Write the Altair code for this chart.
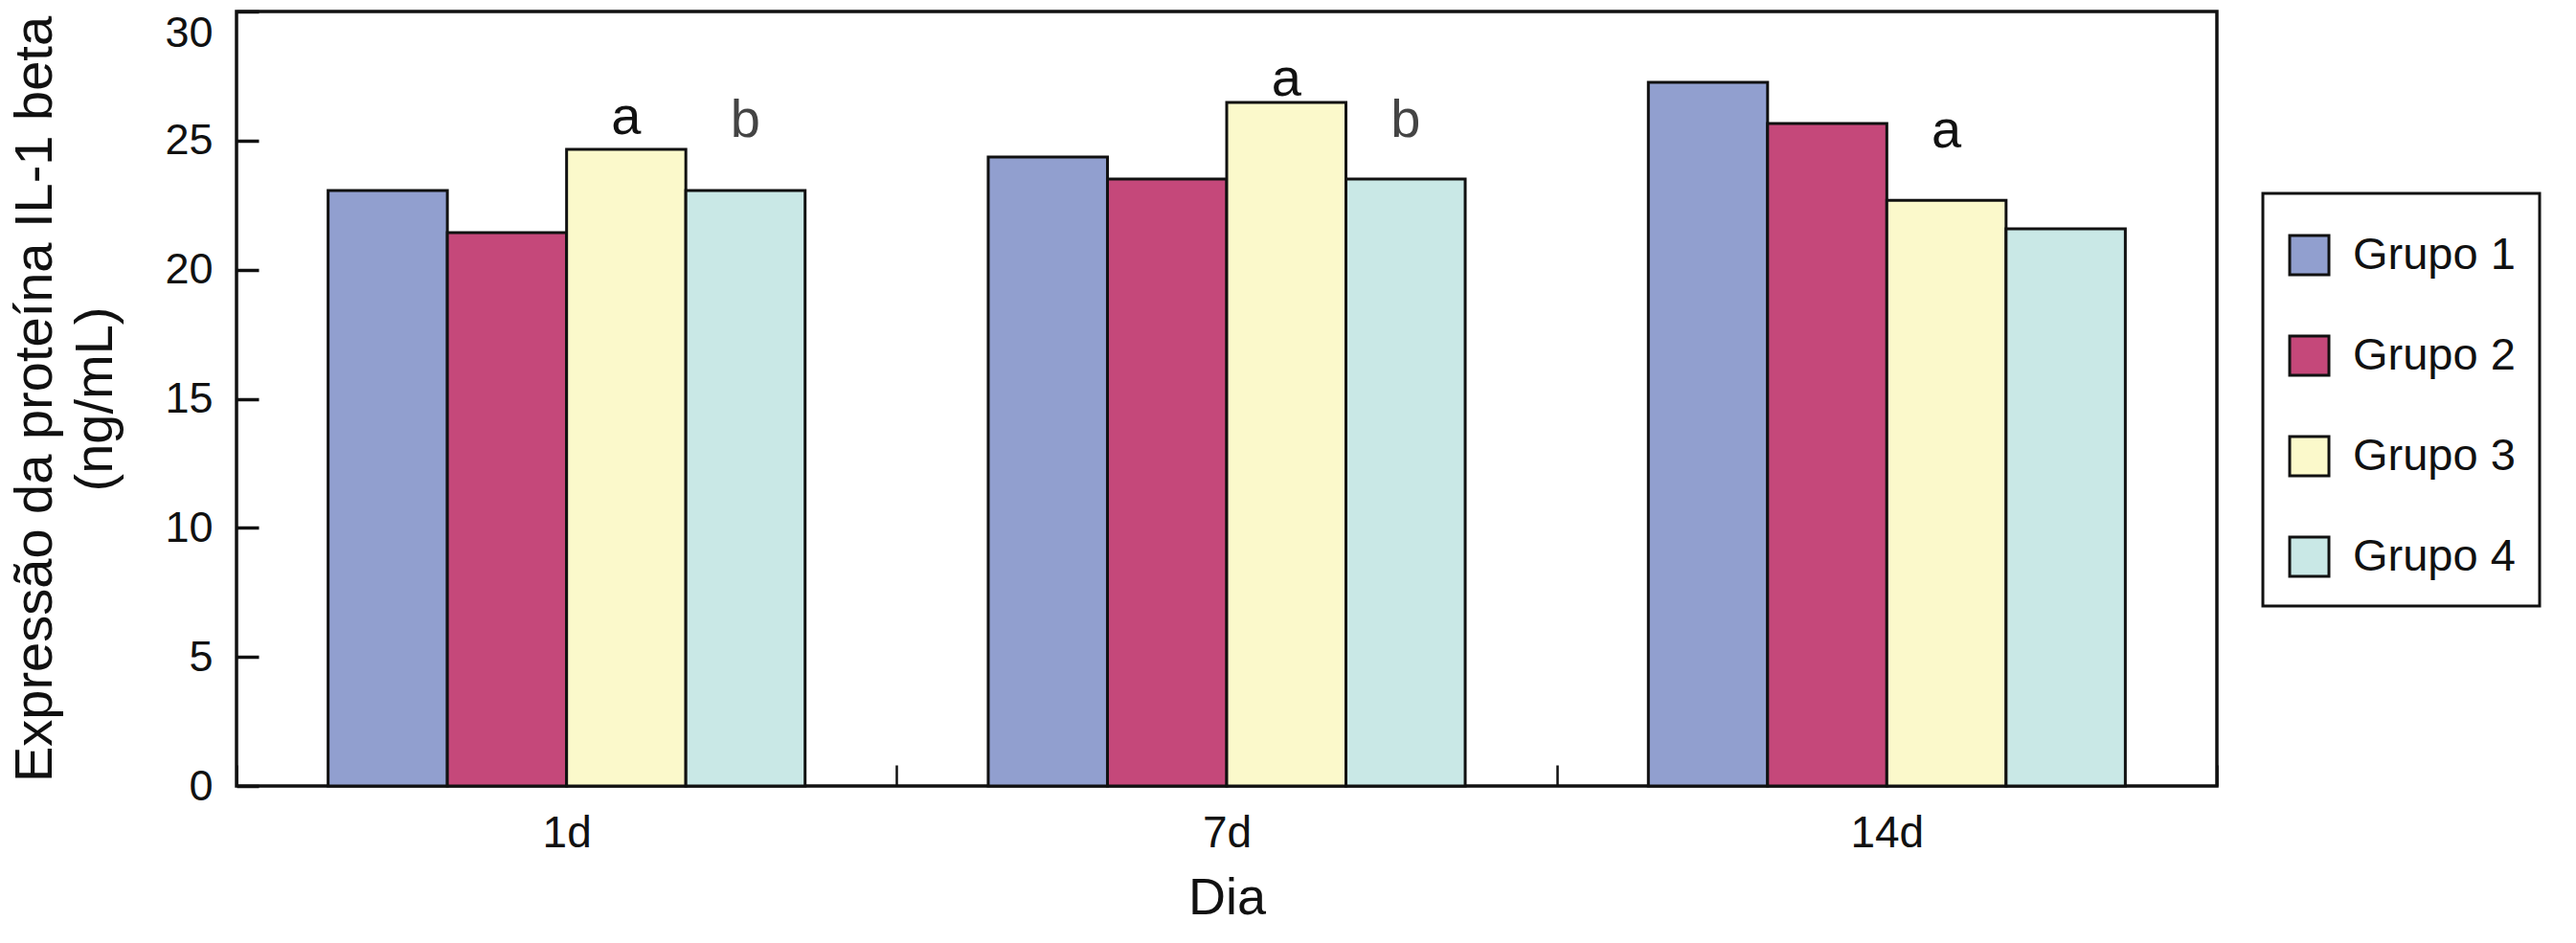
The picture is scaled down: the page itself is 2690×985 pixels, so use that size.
import altair as alt
import pandas as pd

# ---- data ----
dias = ["1d", "7d", "14d"]
grupos = ["Grupo 1", "Grupo 2", "Grupo 3", "Grupo 4"]
grupo1 = [23.07, 24.36, 27.26]
grupo2 = [21.43, 23.51, 25.66]
grupo3 = [24.66, 26.48, 22.69]
grupo4 = [23.07, 23.51, 21.58]
cores = ["#919fcf", "#c5487a", "#fbf9cb", "#c9e8e6"]

annot_dia = ["1d", "1d", "7d", "7d", "14d"]
annot_grupo = ["Grupo 3", "Grupo 4", "Grupo 3", "Grupo 4", "Grupo 3"]
annot_letra = ["a", "b", "a", "b", "a"]
annot_nivel = [25.25, 25.14, 26.74, 25.14, 24.73]
y_ticks = [0, 5, 10, 15, 20, 25, 30]

rows = []
for g, vals in zip(grupos, [grupo1, grupo2, grupo3, grupo4]):
    for d, v in zip(dias, vals):
        rows.append({"Dia": d, "Grupo": g, "valor": v})
df = pd.DataFrame(rows)
ann = pd.DataFrame({"Dia": annot_dia, "Grupo": annot_grupo,
                    "letra": annot_letra, "valor": annot_nivel})

FONT = "Liberation Sans"
INK = "#111111"
W, H = 2068, 809

x_enc = alt.X("Dia:N", sort=dias,
              scale=alt.Scale(domain=dias, paddingInner=0, paddingOuter=0),
              axis=alt.Axis(title="Dia", tickBand="extent", offset=-22, tickSize=22,
                            tickWidth=2.5, tickColor=INK, domain=False,
                            labelFontSize=46, labelAngle=0, labelPadding=27,
                            titleFontSize=54, titlePadding=18))
xo_enc = alt.XOffset("Grupo:N", sort=grupos,
                     scale=alt.Scale(domain=grupos, paddingInner=0, paddingOuter=0.768))
y_enc = alt.Y("valor:Q", scale=alt.Scale(domain=[0, 30], nice=False),
              axis=alt.Axis(title=["Expressão da proteína IL-1 beta", "(ng/mL)"],
                            values=y_ticks, offset=-23, tickSize=23, tickWidth=3.5,
                            tickColor=INK, domain=False, grid=False,
                            labelFontSize=45, labelPadding=25,
                            labelBaseline={"condition": {"test": "datum.value >= 30", "value": "top"},
                                           "value": "middle"},
                            titleFontSize=56, titleLineHeight=63, titlePadding=43))

bars = alt.Chart(df).mark_bar(stroke=INK, strokeWidth=3).encode(
    x=x_enc,
    xOffset=xo_enc,
    y=y_enc,
    color=alt.Color("Grupo:N", sort=grupos,
                    scale=alt.Scale(domain=grupos, range=cores),
                    legend=alt.Legend(orient="none", legendX=2116, legendY=190,
                                      title="\u00a0" * 99, titleFontSize=10, titlePadding=6,
                                      titleLimit=2000,
                                      strokeColor=INK, padding=25,
                                      symbolType="square", symbolSize=1681,
                                      symbolStrokeColor=INK, symbolStrokeWidth=3,
                                      symbolOpacity=1, labelLimit=600,
                                      labelFontSize=47, labelOffset=22, rowPadding=52,
                                      labelFont=FONT, labelColor=INK)),
)

letters = alt.Chart(ann).mark_text(font=FONT, fontSize=56, baseline="alphabetic",
                                   align="center").encode(
    x=alt.X("Dia:N", sort=dias),
    xOffset=alt.XOffset("Grupo:N", sort=grupos),
    y=alt.Y("valor:Q"),
    text="letra:N",
    color=alt.condition(alt.datum.letra == "b", alt.value("#444444"), alt.value(INK)),
)

chart = alt.layer(bars, letters).properties(
    width=W, height=H,
    padding={"left": 239, "top": 4, "right": 360, "bottom": 150},
    autosize=alt.AutoSizeParams(type="none"),
).configure_view(
    stroke=INK, strokeWidth=3.5
).configure_axis(
    labelFont=FONT, titleFont=FONT, labelColor=INK, titleColor=INK,
    titleFontWeight="normal"
).configure_legend(
    strokeWidth=3
)

chart.save("out.html", embed_options={"renderer": "svg", "actions": False})
